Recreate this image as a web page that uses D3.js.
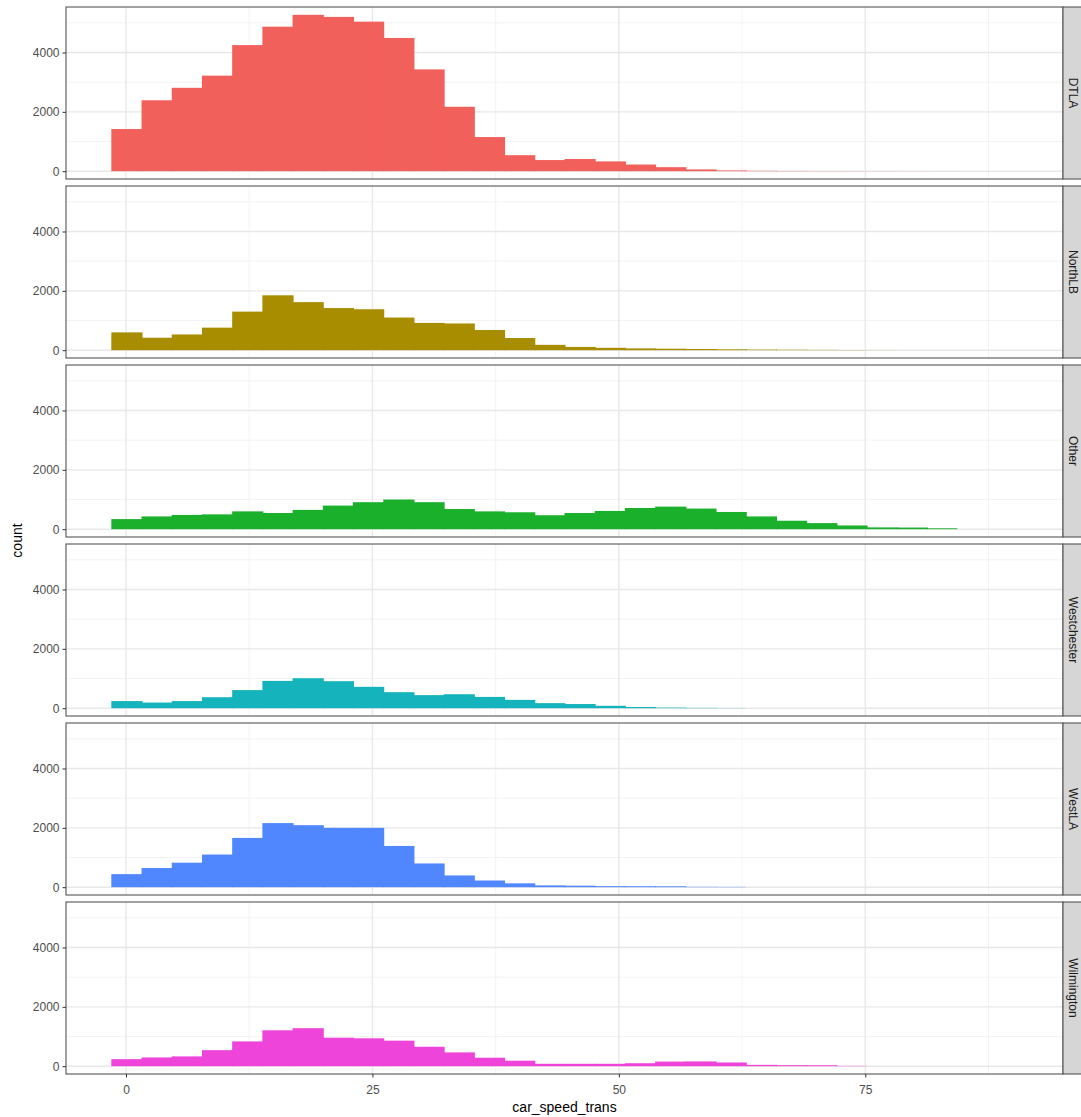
<!DOCTYPE html>
<html><head><meta charset="utf-8">
<script src="https://cdn.jsdelivr.net/npm/d3@7"></script>
<style>body{margin:0;background:#fff}svg{display:block}text{font-family:"Liberation Sans",Arial,sans-serif}</style>
</head><body>
<svg id="c" width="1081" height="1117"></svg>
<script>
// ---- data ----
const binStart = -1.49;
const binWidth = 3.065;
const regions = ["DTLA","NorthLB","Other","Westchester","WestLA","Wilmington"];
const colors = ["#F2605B","#A98D00","#1AB02C","#15B4BC","#5087FF","#EE44DA"];
const DTLA = [1420,2390,2810,3220,4250,4870,5270,5200,5040,4490,3430,2170,1150,540,375,410,330,225,135,60,25,12,8,5,4,3,2,1,0,0];
const NorthLB = [600,420,530,760,1300,1850,1620,1420,1380,1100,920,900,680,410,180,110,80,60,50,40,30,20,15,10,6,3,0,0,0,0];
const Other = [340,430,480,500,600,545,650,795,910,1000,910,680,600,570,470,545,615,715,760,695,580,430,285,205,125,60,55,30,0,0];
const Westchester = [240,190,240,370,610,920,1010,910,720,540,440,470,380,280,170,140,80,40,20,10,5,0,0,0,0,0,0,0,0,0];
const WestLA = [440,645,825,1100,1660,2160,2090,2000,2000,1390,800,395,225,130,60,50,35,33,30,12,10,0,0,0,0,0,0,0,0,0];
const Wilmington = [237,294,330,540,835,1210,1280,960,940,860,655,465,285,185,80,80,80,100,155,160,125,45,35,32,10,0,0,0,0,0];
const seriesValues = [DTLA,NorthLB,Other,Westchester,WestLA,Wilmington];
const xTicks = [0,25,50,75];
const xMinor = [12.5,37.5,62.5,87.5];
const yTicks = [0,2000,4000];
const yMinor = [1000,3000,5000];
const xTitle = "car_speed_trans";
const yTitle = "count";

// ---- layout ----
const svg = d3.select("#c");
const left = 66, right = 1063, top0 = 7, ph = 172, step = 179;
const nb = DTLA.length;
const dataMin = binStart, dataMax = binStart + nb*binWidth;
const xr = dataMax - dataMin;
const x = d3.scaleLinear().domain([dataMin - 0.05*xr, dataMax + 0.05*xr]).range([left, right]);
const yMax = d3.max(seriesValues.flat());

regions.forEach((name, i) => {
  const top = top0 + i*step;
  const y = d3.scaleLinear().domain([-0.05*yMax, 1.05*yMax]).range([top+ph, top]);
  const g = svg.append("g");
  g.append("rect").attr("x",left).attr("y",top).attr("width",right-left).attr("height",ph).attr("fill","#fff");
  // minor grid
  g.selectAll(null).data(yMinor).enter().append("line")
    .attr("x1",left).attr("x2",right).attr("y1",d=>y(d)).attr("y2",d=>y(d))
    .attr("stroke","#F0F0F0").attr("stroke-width",0.8);
  g.selectAll(null).data(xMinor).enter().append("line")
    .attr("y1",top).attr("y2",top+ph).attr("x1",d=>x(d)).attr("x2",d=>x(d))
    .attr("stroke","#F0F0F0").attr("stroke-width",0.8);
  // major grid
  g.selectAll(null).data(yTicks).enter().append("line")
    .attr("x1",left).attr("x2",right).attr("y1",d=>y(d)).attr("y2",d=>y(d))
    .attr("stroke","#E8E8E8").attr("stroke-width",1.4);
  g.selectAll(null).data(xTicks).enter().append("line")
    .attr("y1",top).attr("y2",top+ph).attr("x1",d=>x(d)).attr("x2",d=>x(d))
    .attr("stroke","#E8E8E8").attr("stroke-width",1.4);
  // bars
  const vals = seriesValues[i];
  const last = vals.length - 1;
  g.selectAll(null).data(vals.map((v,k)=>({v,k}))).enter().append("rect")
    .attr("x", d=>x(binStart + d.k*binWidth))
    .attr("width", d=>x(binStart+(d.k+1)*binWidth) - x(binStart + d.k*binWidth) + (d.k<last && vals[d.k+1]>0 ? 1 : 0))
    .attr("y", d=>y(d.v))
    .attr("height", d=>Math.max(0, y(0)-y(d.v)))
    .attr("fill", colors[i]);
  // border
  g.append("rect").attr("x",left).attr("y",top).attr("width",right-left).attr("height",ph)
    .attr("fill","none").attr("stroke","#555").attr("stroke-width",1.1);
  // y axis
  const ya = d3.axisLeft(y).tickValues(yTicks).tickSize(3.5).tickPadding(3).tickFormat(d3.format("d"));
  const ag = g.append("g").attr("transform",`translate(${left},0)`).call(ya);
  ag.select(".domain").remove();
  ag.selectAll(".tick line").attr("stroke","#333");
  ag.selectAll(".tick text").attr("fill","#4D4D4D").style("font-size","12px");
  // strip
  g.append("rect").attr("x",right).attr("y",top).attr("width",30).attr("height",ph)
    .attr("fill","#D6D6D6").attr("stroke","#555").attr("stroke-width",1.1);
  g.append("text").attr("transform",`translate(${right+10},${top+ph/2}) rotate(90)`)
    .attr("text-anchor","middle").attr("dy","0.35em").attr("fill","#1A1A1A")
    .style("font-size","12px").text(name);
  if (i === regions.length-1) {
    const xa = d3.axisBottom(x).tickValues(xTicks).tickSize(3.5).tickPadding(8);
    const xg = g.append("g").attr("transform",`translate(0,${top+ph})`).call(xa);
    xg.select(".domain").remove();
    xg.selectAll(".tick line").attr("stroke","#333");
    xg.selectAll(".tick text").attr("fill","#4D4D4D").style("font-size","12px");
  }
});

svg.append("text").attr("x",(left+right)/2).attr("y",1112).attr("text-anchor","middle")
  .attr("fill","#000").style("font-size","14px").text(xTitle);
svg.append("text").attr("transform",`translate(22,${(top0 + top0+5*step+ph)/2}) rotate(-90)`)
  .attr("text-anchor","middle").attr("fill","#000").style("font-size","14px").text(yTitle);
</script>
</body></html>
